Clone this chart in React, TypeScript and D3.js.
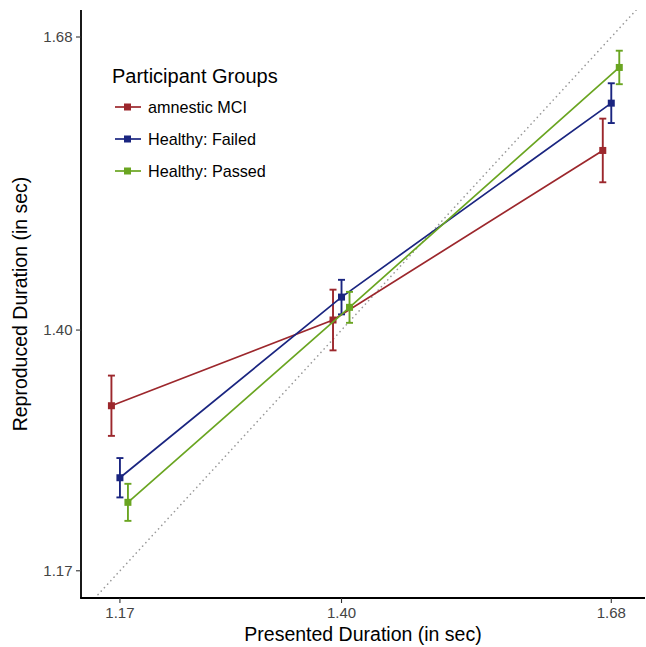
import React from "react";
import * as d3 from "d3";

// presented durations (x) and groups
const presented = [1.17, 1.4, 1.68];
const groups = ["amnestic MCI", "Healthy: Failed", "Healthy: Passed"];
const colors = ["#9c272c", "#1a2580", "#6aa521"];

// mean reproduced durations per group
const mciMean = [1.3277, 1.4096, 1.5716];
const failedMean = [1.2589, 1.4315, 1.6168];
const passedMean = [1.2354, 1.4217, 1.6509];

// error bar half widths per group
const mciErr = [0.0288, 0.029, 0.0304];
const failedErr = [0.0188, 0.0165, 0.019];
const passedErr = [0.0177, 0.0148, 0.016];

const xTicks = [1.17, 1.4, 1.68];
const yTicks = [1.17, 1.4, 1.68];

const W = 646;
const H = 647;
const m = { left: 81, right: 645, top: 10, bottom: 598 };
const FONT = "'Liberation Sans', Arial, Helvetica, sans-serif";

export default function App() {
  const x = d3.scaleLinear().domain([1.1296, 1.715]).range([m.left, m.right]);
  const y = d3.scaleLinear().domain([1.144, 1.7058]).range([m.bottom, m.top]);

  const series = [
    { name: groups[0], color: colors[0], mean: mciMean, err: mciErr, dodge: -8.5 },
    { name: groups[1], color: colors[1], mean: failedMean, err: failedErr, dodge: 0 },
    { name: groups[2], color: colors[2], mean: passedMean, err: passedErr, dodge: 8 },
  ];

  const line = (s: any) =>
    d3.line<number>()
      .x((d, i) => x(presented[i]) + s.dodge)
      .y((d) => y(d))(s.mean) || "";

  const dLo = Math.max(x.domain()[0], y.domain()[0]);
  const dHi = Math.min(x.domain()[1], y.domain()[1]);

  return (
    <div style={{ position: "absolute", left: 0, top: 0 }}>
      <svg width={W} height={H} style={{ display: "block", background: "#fff" }} fontFamily={FONT}>
        <defs>
          <clipPath id="panel">
            <rect x={m.left} y={m.top} width={m.right - m.left} height={m.bottom - m.top} />
          </clipPath>
        </defs>

        {/* identity line */}
        <g clipPath="url(#panel)">
          <line
            x1={x(dLo)} y1={y(dLo)} x2={x(dHi)} y2={y(dHi)}
            stroke="#999" strokeWidth={1.6} strokeDasharray="0.1 4.6" strokeLinecap="round"
          />
        </g>

        {series.map((s) => (
          <g key={s.name}>
            <path d={line(s)} fill="none" stroke={s.color} strokeWidth={1.7} />
            {s.mean.map((v, i) => {
              const cx = x(presented[i]) + s.dodge;
              const lo = y(v - s.err[i]);
              const hi = y(v + s.err[i]);
              return (
                <g key={i} stroke={s.color} strokeWidth={1.9}>
                  <line x1={cx} x2={cx} y1={lo} y2={hi} />
                  <line x1={cx - 3.5} x2={cx + 3.5} y1={lo} y2={lo} />
                  <line x1={cx - 3.5} x2={cx + 3.5} y1={hi} y2={hi} />
                  <rect x={cx - 3.5} y={y(v) - 3.5} width={7} height={7} fill={s.color} stroke="none" />
                </g>
              );
            })}
          </g>
        ))}

        {/* axes */}
        <line x1={m.left} x2={m.left} y1={m.top} y2={m.bottom} stroke="#000" strokeWidth={1.8} />
        <line x1={m.left - 0.9} x2={m.right} y1={m.bottom} y2={m.bottom} stroke="#000" strokeWidth={1.8} />
        {yTicks.map((t) => (
          <g key={"y" + t}>
            <line x1={m.left - 5} x2={m.left} y1={y(t)} y2={y(t)} stroke="#333" strokeWidth={1.1} />
            <text x={m.left - 8.5} y={y(t)} dy="0.36em" textAnchor="end" fontSize={15} fill="#444">
              {d3.format(".2f")(t)}
            </text>
          </g>
        ))}
        {xTicks.map((t) => (
          <g key={"x" + t}>
            <line x1={x(t)} x2={x(t)} y1={m.bottom} y2={m.bottom + 5} stroke="#333" strokeWidth={1.1} />
            <text x={x(t)} y={m.bottom + 20} textAnchor="middle" fontSize={15} fill="#444">
              {d3.format(".2f")(t)}
            </text>
          </g>
        ))}
        <text x={(m.left + m.right) / 2} y={641} textAnchor="middle" fontSize={19.5} fill="#000">
          Presented Duration (in sec)
        </text>
        <text
          transform={`translate(27,${(m.top + m.bottom) / 2}) rotate(-90)`}
          textAnchor="middle" fontSize={19.5} fill="#000"
        >
          Reproduced Duration (in sec)
        </text>

        {/* legend */}
        <g>
          <text x={112} y={83} fontSize={20} fill="#000">Participant Groups</text>
          {series.map((s, i) => {
            const ly = 107 + i * 32;
            return (
              <g key={s.name}>
                <line x1={115} x2={141} y1={ly} y2={ly} stroke={s.color} strokeWidth={1.7} />
                <rect x={124} y={ly - 3.5} width={7} height={7} fill={s.color} />
                <text x={148} y={ly} dy="0.36em" fontSize={16.2} fill="#000">{s.name}</text>
              </g>
            );
          })}
        </g>
      </svg>
    </div>
  );
}
